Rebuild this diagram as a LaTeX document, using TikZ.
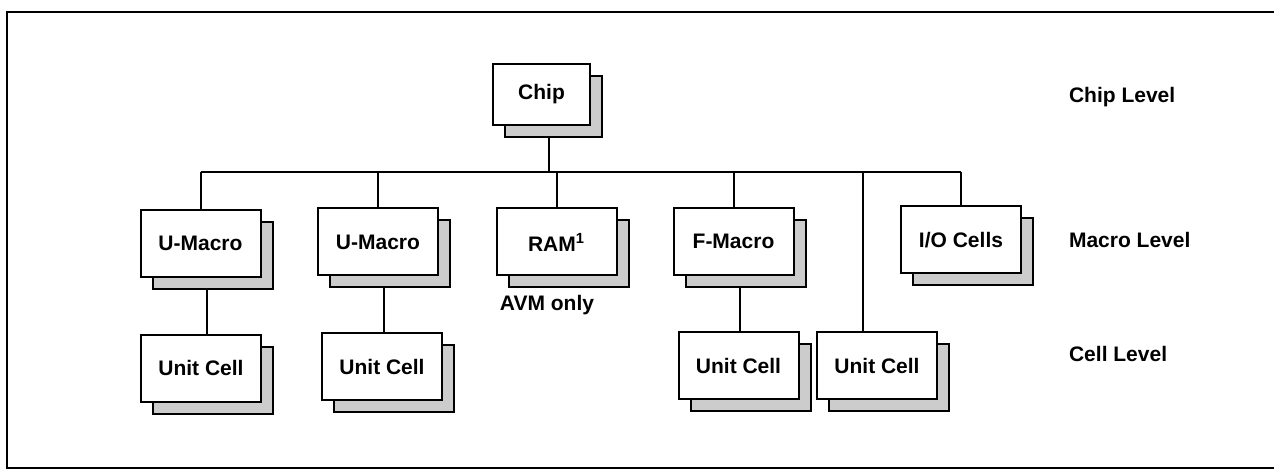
\documentclass[tikz,border=0pt]{standalone}
\usepackage{fontspec}
\setmainfont{Liberation Sans}
\usetikzlibrary{shadows}
\begin{document}
\begin{tikzpicture}[x=0.5pt,y=-0.5pt,
    blk/.style={draw, fill=white, line width=1pt, minimum width=60pt, minimum height=33.5pt, inner sep=0pt,
      font=\fontsize{10.5}{12}\selectfont\bfseries,
      drop shadow={shadow xshift=6pt, shadow yshift=-6pt, fill=black!20, draw=black, line width=1pt, opacity=1}},
    lvl/.style={anchor=west, font=\fontsize{10.5}{12}\selectfont\bfseries},
    wire/.style={line width=1pt}]
    \useasboundingbox (0,0) rectangle (1274,470);
    \draw[line width=1.4pt] (1274,12) -- (7,12) -- (7,468) -- (1274,468);

    % Chip level
    \node[blk, minimum width=48.5pt, minimum height=30.5pt] (chip) at (541.5,94.5) {Chip};

    % Macro level
    \node[blk] (um1) at (200.5,243.5) {U-Macro};
    \node[blk] (um2) at (378,242) {U-Macro};
    \node[blk] (ram) at (556.5,242) {RAM\textsuperscript{1}};
    \node[blk] (fm) at (733.5,241.5) {F-Macro};
    \node[blk] (io) at (961,240) {I/O Cells};
    \node[font=\fontsize{10.5}{12}\selectfont\bfseries] (avm) at (547,305) {AVM only};

    % Cell level
    \node[blk] (uc1) at (201,368) {Unit Cell};
    \node[blk] (uc2) at (382,366.5) {Unit Cell};
    \node[blk] (uc3) at (738.5,365.5) {Unit Cell};
    \node[blk] (uc4) at (877,365.5) {Unit Cell};

    % Level labels
    \node[lvl] (lchip) at (1062,97) {Chip Level};
    \node[lvl] (lmacro) at (1062,240) {Macro Level};
    \node[lvl] (lcell) at (1062,354) {Cell Level};

    % Bus (feet sit under the shadows)
    \coordinate (bus) at (0,172);
    \coordinate (chipfoot) at ([shift={(7,12)}]chip.south);
    \draw[wire] (chipfoot) -- (chipfoot |- bus);
    \draw[wire] (um1.north |- bus) -- (io.north |- bus);
    \foreach \m in {um1,um2,ram,fm,io}
        \draw[wire] (\m.north) -- (\m.north |- bus);
    \coordinate (uc4top) at ([xshift=-7pt]uc4.north);
    \draw[wire] (uc4top) -- (uc4top |- bus);

    % Macro to unit cell
    \foreach \m/\c in {um1/uc1,um2/uc2,fm/uc3} {
        \coordinate (\m foot) at ([shift={(6,12)}]\m.south);
        \draw[wire] (\m foot) -- (\m foot |- \c.north);
    }
\end{tikzpicture}
\end{document}
